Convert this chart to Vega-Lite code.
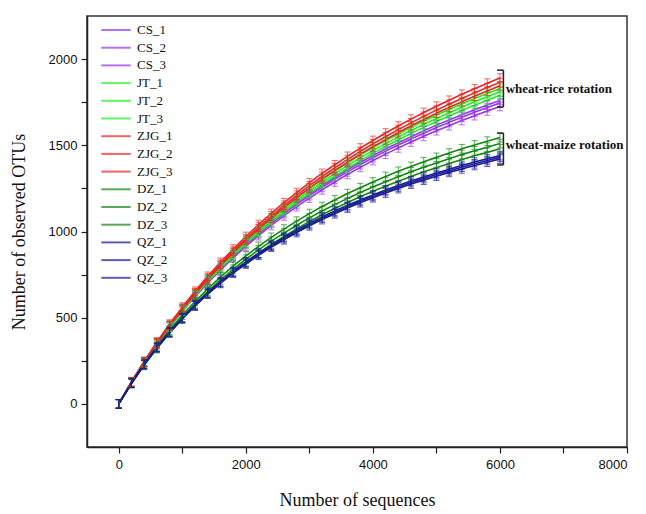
{
"$schema": "https://vega.github.io/schema/vega-lite/v6.json",
"width": 540, "height": 431,
"autosize": "none",
"padding": {"left": 87, "top": 16, "right": 19, "bottom": 67},
"background": "white",
"config": {"view": {"stroke": "#333", "strokeWidth": 1.5}, "font": "Liberation Serif"},
"datasets": {
"groups": [
{"g": "wheat-rice rotation", "lo": 1722, "hi": 1936, "mid": 1829},
{"g": "wheat-maize rotation", "lo": 1386, "hi": 1571, "mid": 1500}
],
"curves": [
{"s":"CS_1","x":0,"y":0},{"s":"CS_1","x":200,"y":127},{"s":"CS_1","x":400,"y":244},{"s":"CS_1","x":600,"y":352},{"s":"CS_1","x":800,"y":453},{"s":"CS_1","x":1000,"y":547},{"s":"CS_1","x":1200,"y":633},{"s":"CS_1","x":1400,"y":715},{"s":"CS_1","x":1600,"y":792},{"s":"CS_1","x":1800,"y":864},{"s":"CS_1","x":2000,"y":932},{"s":"CS_1","x":2200,"y":995},{"s":"CS_1","x":2400,"y":1056},{"s":"CS_1","x":2600,"y":1113},{"s":"CS_1","x":2800,"y":1167},{"s":"CS_1","x":3000,"y":1218},{"s":"CS_1","x":3200,"y":1267},{"s":"CS_1","x":3400,"y":1313},{"s":"CS_1","x":3600,"y":1358},{"s":"CS_1","x":3800,"y":1400},{"s":"CS_1","x":4000,"y":1440},{"s":"CS_1","x":4200,"y":1479},{"s":"CS_1","x":4400,"y":1515},{"s":"CS_1","x":4600,"y":1550},{"s":"CS_1","x":4800,"y":1584},{"s":"CS_1","x":5000,"y":1617},{"s":"CS_1","x":5200,"y":1647},{"s":"CS_1","x":5400,"y":1677},{"s":"CS_1","x":5600,"y":1706},{"s":"CS_1","x":5800,"y":1734},{"s":"CS_1","x":6000,"y":1760},
{"s":"CS_2","x":0,"y":0},{"s":"CS_2","x":200,"y":126},{"s":"CS_2","x":400,"y":242},{"s":"CS_2","x":600,"y":349},{"s":"CS_2","x":800,"y":449},{"s":"CS_2","x":1000,"y":542},{"s":"CS_2","x":1200,"y":628},{"s":"CS_2","x":1400,"y":709},{"s":"CS_2","x":1600,"y":785},{"s":"CS_2","x":1800,"y":857},{"s":"CS_2","x":2000,"y":924},{"s":"CS_2","x":2200,"y":987},{"s":"CS_2","x":2400,"y":1047},{"s":"CS_2","x":2600,"y":1104},{"s":"CS_2","x":2800,"y":1157},{"s":"CS_2","x":3000,"y":1208},{"s":"CS_2","x":3200,"y":1256},{"s":"CS_2","x":3400,"y":1302},{"s":"CS_2","x":3600,"y":1346},{"s":"CS_2","x":3800,"y":1388},{"s":"CS_2","x":4000,"y":1428},{"s":"CS_2","x":4200,"y":1466},{"s":"CS_2","x":4400,"y":1502},{"s":"CS_2","x":4600,"y":1537},{"s":"CS_2","x":4800,"y":1570},{"s":"CS_2","x":5000,"y":1603},{"s":"CS_2","x":5200,"y":1633},{"s":"CS_2","x":5400,"y":1663},{"s":"CS_2","x":5600,"y":1691},{"s":"CS_2","x":5800,"y":1719},{"s":"CS_2","x":6000,"y":1745},
{"s":"CS_3","x":0,"y":0},{"s":"CS_3","x":200,"y":125},{"s":"CS_3","x":400,"y":239},{"s":"CS_3","x":600,"y":345},{"s":"CS_3","x":800,"y":444},{"s":"CS_3","x":1000,"y":536},{"s":"CS_3","x":1200,"y":621},{"s":"CS_3","x":1400,"y":701},{"s":"CS_3","x":1600,"y":776},{"s":"CS_3","x":1800,"y":847},{"s":"CS_3","x":2000,"y":913},{"s":"CS_3","x":2200,"y":976},{"s":"CS_3","x":2400,"y":1035},{"s":"CS_3","x":2600,"y":1091},{"s":"CS_3","x":2800,"y":1144},{"s":"CS_3","x":3000,"y":1194},{"s":"CS_3","x":3200,"y":1242},{"s":"CS_3","x":3400,"y":1287},{"s":"CS_3","x":3600,"y":1331},{"s":"CS_3","x":3800,"y":1372},{"s":"CS_3","x":4000,"y":1412},{"s":"CS_3","x":4200,"y":1449},{"s":"CS_3","x":4400,"y":1485},{"s":"CS_3","x":4600,"y":1519},{"s":"CS_3","x":4800,"y":1552},{"s":"CS_3","x":5000,"y":1585},{"s":"CS_3","x":5200,"y":1614},{"s":"CS_3","x":5400,"y":1644},{"s":"CS_3","x":5600,"y":1672},{"s":"CS_3","x":5800,"y":1699},{"s":"CS_3","x":6000,"y":1725},
{"s":"JT_1","x":0,"y":0},{"s":"JT_1","x":200,"y":126},{"s":"JT_1","x":400,"y":244},{"s":"JT_1","x":600,"y":354},{"s":"JT_1","x":800,"y":455},{"s":"JT_1","x":1000,"y":551},{"s":"JT_1","x":1200,"y":641},{"s":"JT_1","x":1400,"y":725},{"s":"JT_1","x":1600,"y":804},{"s":"JT_1","x":1800,"y":879},{"s":"JT_1","x":2000,"y":949},{"s":"JT_1","x":2200,"y":1015},{"s":"JT_1","x":2400,"y":1079},{"s":"JT_1","x":2600,"y":1138},{"s":"JT_1","x":2800,"y":1196},{"s":"JT_1","x":3000,"y":1250},{"s":"JT_1","x":3200,"y":1301},{"s":"JT_1","x":3400,"y":1351},{"s":"JT_1","x":3600,"y":1397},{"s":"JT_1","x":3800,"y":1443},{"s":"JT_1","x":4000,"y":1485},{"s":"JT_1","x":4200,"y":1527},{"s":"JT_1","x":4400,"y":1566},{"s":"JT_1","x":4600,"y":1604},{"s":"JT_1","x":4800,"y":1640},{"s":"JT_1","x":5000,"y":1674},{"s":"JT_1","x":5200,"y":1708},{"s":"JT_1","x":5400,"y":1740},{"s":"JT_1","x":5600,"y":1771},{"s":"JT_1","x":5800,"y":1801},{"s":"JT_1","x":6000,"y":1830},
{"s":"JT_2","x":0,"y":0},{"s":"JT_2","x":200,"y":125},{"s":"JT_2","x":400,"y":241},{"s":"JT_2","x":600,"y":350},{"s":"JT_2","x":800,"y":450},{"s":"JT_2","x":1000,"y":545},{"s":"JT_2","x":1200,"y":634},{"s":"JT_2","x":1400,"y":717},{"s":"JT_2","x":1600,"y":795},{"s":"JT_2","x":1800,"y":869},{"s":"JT_2","x":2000,"y":939},{"s":"JT_2","x":2200,"y":1004},{"s":"JT_2","x":2400,"y":1067},{"s":"JT_2","x":2600,"y":1126},{"s":"JT_2","x":2800,"y":1183},{"s":"JT_2","x":3000,"y":1236},{"s":"JT_2","x":3200,"y":1287},{"s":"JT_2","x":3400,"y":1336},{"s":"JT_2","x":3600,"y":1382},{"s":"JT_2","x":3800,"y":1427},{"s":"JT_2","x":4000,"y":1469},{"s":"JT_2","x":4200,"y":1510},{"s":"JT_2","x":4400,"y":1549},{"s":"JT_2","x":4600,"y":1586},{"s":"JT_2","x":4800,"y":1622},{"s":"JT_2","x":5000,"y":1656},{"s":"JT_2","x":5200,"y":1689},{"s":"JT_2","x":5400,"y":1721},{"s":"JT_2","x":5600,"y":1752},{"s":"JT_2","x":5800,"y":1781},{"s":"JT_2","x":6000,"y":1810},
{"s":"JT_3","x":0,"y":0},{"s":"JT_3","x":200,"y":124},{"s":"JT_3","x":400,"y":238},{"s":"JT_3","x":600,"y":346},{"s":"JT_3","x":800,"y":445},{"s":"JT_3","x":1000,"y":539},{"s":"JT_3","x":1200,"y":627},{"s":"JT_3","x":1400,"y":709},{"s":"JT_3","x":1600,"y":786},{"s":"JT_3","x":1800,"y":859},{"s":"JT_3","x":2000,"y":929},{"s":"JT_3","x":2200,"y":993},{"s":"JT_3","x":2400,"y":1055},{"s":"JT_3","x":2600,"y":1114},{"s":"JT_3","x":2800,"y":1170},{"s":"JT_3","x":3000,"y":1222},{"s":"JT_3","x":3200,"y":1273},{"s":"JT_3","x":3400,"y":1321},{"s":"JT_3","x":3600,"y":1367},{"s":"JT_3","x":3800,"y":1411},{"s":"JT_3","x":4000,"y":1453},{"s":"JT_3","x":4200,"y":1493},{"s":"JT_3","x":4400,"y":1532},{"s":"JT_3","x":4600,"y":1568},{"s":"JT_3","x":4800,"y":1604},{"s":"JT_3","x":5000,"y":1638},{"s":"JT_3","x":5200,"y":1670},{"s":"JT_3","x":5400,"y":1702},{"s":"JT_3","x":5600,"y":1733},{"s":"JT_3","x":5800,"y":1761},{"s":"JT_3","x":6000,"y":1790},
{"s":"ZJG_1","x":0,"y":0},{"s":"ZJG_1","x":200,"y":129},{"s":"ZJG_1","x":400,"y":247},{"s":"ZJG_1","x":600,"y":359},{"s":"ZJG_1","x":800,"y":463},{"s":"ZJG_1","x":1000,"y":561},{"s":"ZJG_1","x":1200,"y":653},{"s":"ZJG_1","x":1400,"y":740},{"s":"ZJG_1","x":1600,"y":821},{"s":"ZJG_1","x":1800,"y":898},{"s":"ZJG_1","x":2000,"y":971},{"s":"ZJG_1","x":2200,"y":1040},{"s":"ZJG_1","x":2400,"y":1105},{"s":"ZJG_1","x":2600,"y":1167},{"s":"ZJG_1","x":2800,"y":1226},{"s":"ZJG_1","x":3000,"y":1283},{"s":"ZJG_1","x":3200,"y":1337},{"s":"ZJG_1","x":3400,"y":1387},{"s":"ZJG_1","x":3600,"y":1436},{"s":"ZJG_1","x":3800,"y":1484},{"s":"ZJG_1","x":4000,"y":1528},{"s":"ZJG_1","x":4200,"y":1571},{"s":"ZJG_1","x":4400,"y":1612},{"s":"ZJG_1","x":4600,"y":1652},{"s":"ZJG_1","x":4800,"y":1690},{"s":"ZJG_1","x":5000,"y":1727},{"s":"ZJG_1","x":5200,"y":1761},{"s":"ZJG_1","x":5400,"y":1796},{"s":"ZJG_1","x":5600,"y":1828},{"s":"ZJG_1","x":5800,"y":1860},{"s":"ZJG_1","x":6000,"y":1890},
{"s":"ZJG_2","x":0,"y":0},{"s":"ZJG_2","x":200,"y":127},{"s":"ZJG_2","x":400,"y":244},{"s":"ZJG_2","x":600,"y":354},{"s":"ZJG_2","x":800,"y":457},{"s":"ZJG_2","x":1000,"y":554},{"s":"ZJG_2","x":1200,"y":644},{"s":"ZJG_2","x":1400,"y":730},{"s":"ZJG_2","x":1600,"y":810},{"s":"ZJG_2","x":1800,"y":886},{"s":"ZJG_2","x":2000,"y":958},{"s":"ZJG_2","x":2200,"y":1026},{"s":"ZJG_2","x":2400,"y":1090},{"s":"ZJG_2","x":2600,"y":1152},{"s":"ZJG_2","x":2800,"y":1210},{"s":"ZJG_2","x":3000,"y":1266},{"s":"ZJG_2","x":3200,"y":1319},{"s":"ZJG_2","x":3400,"y":1369},{"s":"ZJG_2","x":3600,"y":1417},{"s":"ZJG_2","x":3800,"y":1464},{"s":"ZJG_2","x":4000,"y":1508},{"s":"ZJG_2","x":4200,"y":1550},{"s":"ZJG_2","x":4400,"y":1591},{"s":"ZJG_2","x":4600,"y":1630},{"s":"ZJG_2","x":4800,"y":1668},{"s":"ZJG_2","x":5000,"y":1704},{"s":"ZJG_2","x":5200,"y":1738},{"s":"ZJG_2","x":5400,"y":1772},{"s":"ZJG_2","x":5600,"y":1804},{"s":"ZJG_2","x":5800,"y":1835},{"s":"ZJG_2","x":6000,"y":1865},
{"s":"ZJG_3","x":0,"y":0},{"s":"ZJG_3","x":200,"y":126},{"s":"ZJG_3","x":400,"y":241},{"s":"ZJG_3","x":600,"y":350},{"s":"ZJG_3","x":800,"y":452},{"s":"ZJG_3","x":1000,"y":548},{"s":"ZJG_3","x":1200,"y":637},{"s":"ZJG_3","x":1400,"y":722},{"s":"ZJG_3","x":1600,"y":801},{"s":"ZJG_3","x":1800,"y":877},{"s":"ZJG_3","x":2000,"y":948},{"s":"ZJG_3","x":2200,"y":1015},{"s":"ZJG_3","x":2400,"y":1078},{"s":"ZJG_3","x":2600,"y":1140},{"s":"ZJG_3","x":2800,"y":1197},{"s":"ZJG_3","x":3000,"y":1252},{"s":"ZJG_3","x":3200,"y":1305},{"s":"ZJG_3","x":3400,"y":1354},{"s":"ZJG_3","x":3600,"y":1402},{"s":"ZJG_3","x":3800,"y":1448},{"s":"ZJG_3","x":4000,"y":1492},{"s":"ZJG_3","x":4200,"y":1533},{"s":"ZJG_3","x":4400,"y":1574},{"s":"ZJG_3","x":4600,"y":1613},{"s":"ZJG_3","x":4800,"y":1650},{"s":"ZJG_3","x":5000,"y":1686},{"s":"ZJG_3","x":5200,"y":1719},{"s":"ZJG_3","x":5400,"y":1753},{"s":"ZJG_3","x":5600,"y":1785},{"s":"ZJG_3","x":5800,"y":1815},{"s":"ZJG_3","x":6000,"y":1845},
{"s":"DZ_1","x":0,"y":0},{"s":"DZ_1","x":200,"y":123},{"s":"DZ_1","x":400,"y":234},{"s":"DZ_1","x":600,"y":336},{"s":"DZ_1","x":800,"y":429},{"s":"DZ_1","x":1000,"y":515},{"s":"DZ_1","x":1200,"y":594},{"s":"DZ_1","x":1400,"y":667},{"s":"DZ_1","x":1600,"y":736},{"s":"DZ_1","x":1800,"y":799},{"s":"DZ_1","x":2000,"y":858},{"s":"DZ_1","x":2200,"y":914},{"s":"DZ_1","x":2400,"y":966},{"s":"DZ_1","x":2600,"y":1014},{"s":"DZ_1","x":2800,"y":1060},{"s":"DZ_1","x":3000,"y":1104},{"s":"DZ_1","x":3200,"y":1145},{"s":"DZ_1","x":3400,"y":1183},{"s":"DZ_1","x":3600,"y":1220},{"s":"DZ_1","x":3800,"y":1254},{"s":"DZ_1","x":4000,"y":1287},{"s":"DZ_1","x":4200,"y":1319},{"s":"DZ_1","x":4400,"y":1349},{"s":"DZ_1","x":4600,"y":1377},{"s":"DZ_1","x":4800,"y":1405},{"s":"DZ_1","x":5000,"y":1430},{"s":"DZ_1","x":5200,"y":1455},{"s":"DZ_1","x":5400,"y":1480},{"s":"DZ_1","x":5600,"y":1502},{"s":"DZ_1","x":5800,"y":1524},{"s":"DZ_1","x":6000,"y":1545},
{"s":"DZ_2","x":0,"y":0},{"s":"DZ_2","x":200,"y":120},{"s":"DZ_2","x":400,"y":229},{"s":"DZ_2","x":600,"y":328},{"s":"DZ_2","x":800,"y":419},{"s":"DZ_2","x":1000,"y":503},{"s":"DZ_2","x":1200,"y":581},{"s":"DZ_2","x":1400,"y":652},{"s":"DZ_2","x":1600,"y":719},{"s":"DZ_2","x":1800,"y":781},{"s":"DZ_2","x":2000,"y":839},{"s":"DZ_2","x":2200,"y":893},{"s":"DZ_2","x":2400,"y":944},{"s":"DZ_2","x":2600,"y":991},{"s":"DZ_2","x":2800,"y":1036},{"s":"DZ_2","x":3000,"y":1079},{"s":"DZ_2","x":3200,"y":1119},{"s":"DZ_2","x":3400,"y":1156},{"s":"DZ_2","x":3600,"y":1192},{"s":"DZ_2","x":3800,"y":1226},{"s":"DZ_2","x":4000,"y":1258},{"s":"DZ_2","x":4200,"y":1289},{"s":"DZ_2","x":4400,"y":1318},{"s":"DZ_2","x":4600,"y":1346},{"s":"DZ_2","x":4800,"y":1373},{"s":"DZ_2","x":5000,"y":1398},{"s":"DZ_2","x":5200,"y":1422},{"s":"DZ_2","x":5400,"y":1446},{"s":"DZ_2","x":5600,"y":1468},{"s":"DZ_2","x":5800,"y":1489},{"s":"DZ_2","x":6000,"y":1510},
{"s":"DZ_3","x":0,"y":0},{"s":"DZ_3","x":200,"y":118},{"s":"DZ_3","x":400,"y":224},{"s":"DZ_3","x":600,"y":321},{"s":"DZ_3","x":800,"y":411},{"s":"DZ_3","x":1000,"y":493},{"s":"DZ_3","x":1200,"y":569},{"s":"DZ_3","x":1400,"y":639},{"s":"DZ_3","x":1600,"y":705},{"s":"DZ_3","x":1800,"y":765},{"s":"DZ_3","x":2000,"y":822},{"s":"DZ_3","x":2200,"y":875},{"s":"DZ_3","x":2400,"y":925},{"s":"DZ_3","x":2600,"y":971},{"s":"DZ_3","x":2800,"y":1015},{"s":"DZ_3","x":3000,"y":1058},{"s":"DZ_3","x":3200,"y":1097},{"s":"DZ_3","x":3400,"y":1133},{"s":"DZ_3","x":3600,"y":1168},{"s":"DZ_3","x":3800,"y":1202},{"s":"DZ_3","x":4000,"y":1233},{"s":"DZ_3","x":4200,"y":1263},{"s":"DZ_3","x":4400,"y":1292},{"s":"DZ_3","x":4600,"y":1319},{"s":"DZ_3","x":4800,"y":1346},{"s":"DZ_3","x":5000,"y":1370},{"s":"DZ_3","x":5200,"y":1394},{"s":"DZ_3","x":5400,"y":1417},{"s":"DZ_3","x":5600,"y":1439},{"s":"DZ_3","x":5800,"y":1459},{"s":"DZ_3","x":6000,"y":1480},
{"s":"QZ_1","x":0,"y":0},{"s":"QZ_1","x":200,"y":121},{"s":"QZ_1","x":400,"y":231},{"s":"QZ_1","x":600,"y":329},{"s":"QZ_1","x":800,"y":419},{"s":"QZ_1","x":1000,"y":500},{"s":"QZ_1","x":1200,"y":576},{"s":"QZ_1","x":1400,"y":645},{"s":"QZ_1","x":1600,"y":709},{"s":"QZ_1","x":1800,"y":768},{"s":"QZ_1","x":2000,"y":823},{"s":"QZ_1","x":2200,"y":874},{"s":"QZ_1","x":2400,"y":921},{"s":"QZ_1","x":2600,"y":966},{"s":"QZ_1","x":2800,"y":1008},{"s":"QZ_1","x":3000,"y":1047},{"s":"QZ_1","x":3200,"y":1085},{"s":"QZ_1","x":3400,"y":1119},{"s":"QZ_1","x":3600,"y":1152},{"s":"QZ_1","x":3800,"y":1183},{"s":"QZ_1","x":4000,"y":1212},{"s":"QZ_1","x":4200,"y":1241},{"s":"QZ_1","x":4400,"y":1267},{"s":"QZ_1","x":4600,"y":1293},{"s":"QZ_1","x":4800,"y":1316},{"s":"QZ_1","x":5000,"y":1339},{"s":"QZ_1","x":5200,"y":1361},{"s":"QZ_1","x":5400,"y":1383},{"s":"QZ_1","x":5600,"y":1403},{"s":"QZ_1","x":5800,"y":1422},{"s":"QZ_1","x":6000,"y":1440},
{"s":"QZ_2","x":0,"y":0},{"s":"QZ_2","x":200,"y":120},{"s":"QZ_2","x":400,"y":229},{"s":"QZ_2","x":600,"y":327},{"s":"QZ_2","x":800,"y":416},{"s":"QZ_2","x":1000,"y":497},{"s":"QZ_2","x":1200,"y":572},{"s":"QZ_2","x":1400,"y":641},{"s":"QZ_2","x":1600,"y":704},{"s":"QZ_2","x":1800,"y":763},{"s":"QZ_2","x":2000,"y":817},{"s":"QZ_2","x":2200,"y":868},{"s":"QZ_2","x":2400,"y":915},{"s":"QZ_2","x":2600,"y":959},{"s":"QZ_2","x":2800,"y":1001},{"s":"QZ_2","x":3000,"y":1040},{"s":"QZ_2","x":3200,"y":1077},{"s":"QZ_2","x":3400,"y":1111},{"s":"QZ_2","x":3600,"y":1144},{"s":"QZ_2","x":3800,"y":1175},{"s":"QZ_2","x":4000,"y":1204},{"s":"QZ_2","x":4200,"y":1232},{"s":"QZ_2","x":4400,"y":1258},{"s":"QZ_2","x":4600,"y":1284},{"s":"QZ_2","x":4800,"y":1307},{"s":"QZ_2","x":5000,"y":1330},{"s":"QZ_2","x":5200,"y":1352},{"s":"QZ_2","x":5400,"y":1373},{"s":"QZ_2","x":5600,"y":1393},{"s":"QZ_2","x":5800,"y":1412},{"s":"QZ_2","x":6000,"y":1430},
{"s":"QZ_3","x":0,"y":0},{"s":"QZ_3","x":200,"y":119},{"s":"QZ_3","x":400,"y":227},{"s":"QZ_3","x":600,"y":325},{"s":"QZ_3","x":800,"y":413},{"s":"QZ_3","x":1000,"y":494},{"s":"QZ_3","x":1200,"y":568},{"s":"QZ_3","x":1400,"y":637},{"s":"QZ_3","x":1600,"y":699},{"s":"QZ_3","x":1800,"y":758},{"s":"QZ_3","x":2000,"y":811},{"s":"QZ_3","x":2200,"y":862},{"s":"QZ_3","x":2400,"y":909},{"s":"QZ_3","x":2600,"y":952},{"s":"QZ_3","x":2800,"y":994},{"s":"QZ_3","x":3000,"y":1033},{"s":"QZ_3","x":3200,"y":1069},{"s":"QZ_3","x":3400,"y":1103},{"s":"QZ_3","x":3600,"y":1136},{"s":"QZ_3","x":3800,"y":1167},{"s":"QZ_3","x":4000,"y":1196},{"s":"QZ_3","x":4200,"y":1223},{"s":"QZ_3","x":4400,"y":1249},{"s":"QZ_3","x":4600,"y":1275},{"s":"QZ_3","x":4800,"y":1298},{"s":"QZ_3","x":5000,"y":1321},{"s":"QZ_3","x":5200,"y":1343},{"s":"QZ_3","x":5400,"y":1363},{"s":"QZ_3","x":5600,"y":1383},{"s":"QZ_3","x":5800,"y":1402},{"s":"QZ_3","x":6000,"y":1420}
]
},
"layer": [
{
"data": {"name": "curves"},
"mark": {"type": "line", "strokeWidth": 1.6},
"encoding": {
"x": {"field": "x", "type": "quantitative",
 "scale": {"domain": [-500, 8000], "nice": false, "zero": false},
 "axis": {"title": "Number of sequences", "values": [0,1000,2000,3000,4000,5000,6000,7000,8000],
  "labelExpr": "datum.value % 2000 === 0 ? datum.label : ''", "format": "d", "grid": false,
  "tickSize": 6, "tickWidth": 1.2, "tickColor": "#222", "domainColor": "#222", "domainWidth": 1.5,
  "labelFont": "Liberation Sans", "labelFontSize": 13, "labelColor": "#111", "labelPadding": 5,
  "titleFont": "Liberation Serif", "titleFontSize": 18, "titleFontWeight": "normal", "titleColor": "#111", "titlePadding": 20}},
"y": {"field": "y", "type": "quantitative",
 "scale": {"domain": [-250, 2250], "nice": false, "zero": false},
 "axis": {"title": "Number of observed OTUs", "values": [0,250,500,750,1000,1250,1500,1750,2000],
  "labelExpr": "datum.value % 500 === 0 ? datum.label : ''", "format": "d", "grid": false,
  "tickSize": 6, "tickWidth": 1.2, "tickColor": "#222", "domainColor": "#222", "domainWidth": 1.5,
  "labelFont": "Liberation Sans", "labelFontSize": 13, "labelColor": "#111", "labelPadding": 4,
  "titleFont": "Liberation Serif", "titleFontSize": 18, "titleFontWeight": "normal", "titleColor": "#111", "titlePadding": 20}},
"color": {"field": "s", "type": "nominal",
 "scale": {"domain": ["CS_1","CS_2","CS_3","JT_1","JT_2","JT_3","ZJG_1","ZJG_2","ZJG_3","DZ_1","DZ_2","DZ_3","QZ_1","QZ_2","QZ_3"],
  "range": ["#9933EE","#9933EE","#9933EE","#22EE22","#22EE22","#22EE22","#EE2222","#EE2222","#EE2222","#118811","#118811","#118811","#1A1A9A","#1A1A9A","#1A1A9A"]},
 "legend": {"title": null, "orient": "none", "legendX": 19, "legendY": 4, "padding": 0,
  "symbolType": "M-1.7,0L1.7,0", "symbolSize": 300, "symbolStrokeWidth": 2,
  "labelFont": "Liberation Serif", "labelFontSize": 13, "labelColor": "#111", "labelOffset": 11, "rowPadding": 0.7}}
}
},
{
"data": {"name": "curves"},
"mark": {"type": "point", "shape": "M0,-1L0,1M-0.7,-1L0.7,-1M-0.7,1L0.7,1", "filled": false, "size": 75, "strokeWidth": 1, "opacity": 0.7},
"encoding": {
"x": {"field": "x", "type": "quantitative"},
"y": {"field": "y", "type": "quantitative"},
"color": {"field": "s", "type": "nominal"}
}
},
{
"data": {"name": "groups"},
"mark": {"type": "rule", "color": "#222", "strokeWidth": 1.5},
"encoding": {"x": {"datum": 6055}, "y": {"field": "lo", "type": "quantitative"}, "y2": {"field": "hi"}}
},
{
"data": {"name": "groups"},
"mark": {"type": "rule", "color": "#222", "strokeWidth": 1.5},
"encoding": {"x": {"datum": 5955}, "x2": {"datum": 6055}, "y": {"field": "lo", "type": "quantitative"}}
},
{
"data": {"name": "groups"},
"mark": {"type": "rule", "color": "#222", "strokeWidth": 1.5},
"encoding": {"x": {"datum": 5955}, "x2": {"datum": 6055}, "y": {"field": "hi", "type": "quantitative"}}
},
{
"data": {"name": "groups"},
"mark": {"type": "text", "align": "left", "baseline": "middle", "font": "Liberation Serif", "fontSize": 13, "fontWeight": "bold", "color": "#111"},
"encoding": {"x": {"datum": 6090}, "y": {"field": "mid", "type": "quantitative"}, "text": {"field": "g"}}
}
]
}
